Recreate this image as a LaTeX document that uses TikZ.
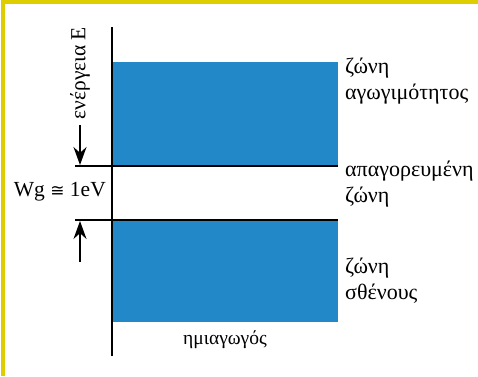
\documentclass[tikz,border=0pt]{standalone}
\usepackage{fontspec}
\setmainfont{Liberation Serif}
\newfontfamily\symfont{DejaVu Sans}
\usetikzlibrary{arrows.meta}
\definecolor{bandblue}{RGB}{34,136,200}
\definecolor{frameyellow}{RGB}{222,206,0}
\begin{document}
\begin{tikzpicture}[x=1pt,y=1pt,
  lbl/.style={font=\fontsize{19.5}{23}\selectfont, inner sep=0pt, align=left},
  rlbl/.style={font=\fontsize{22}{26}\selectfont, inner sep=0pt, align=left, anchor=north west},
  band/.style={fill=bandblue, draw=none},
  level/.style={line width=1.6pt, black},
  arr/.style={line width=1.3pt, -{Stealth[length=18pt,width=13pt]}}]
\useasboundingbox (0,0) rectangle (478,376);
\fill[white] (0,0) rectangle (478,376);
% frame
\draw[frameyellow, line width=4pt] (3,0) -- (3,374) -- (478,374);
% bands
\fill[band] (113,210) rectangle (338,314);
\fill[band] (113,54) rectangle (338,156);
% levels
\coordinate (c1l) at (75,210); \coordinate (c1r) at (338,210);
\coordinate (v1l) at (75,156); \coordinate (v1r) at (338,156);
\draw[level] (c1l) -- (c1r);
\draw[level] (v1l) -- (v1r);
% axis
\coordinate (axt) at (112,349); \coordinate (axb) at (112,20);
\draw[line width=1.8pt] (axt) -- (axb);
% energy label and arrows
\node[lbl, rotate=90, font=\fontsize{21.5}{25}\selectfont] (energy) at (80,303) {ενέργεια E};
\coordinate (a1s) at (80,251); \coordinate (a1e) at (80,211);
\draw[arr] (a1s) -- (a1e);
\coordinate (a2s) at (80,114); \coordinate (a2e) at (80,155);
\draw[arr] (a2s) -- (a2e);
\node[lbl, anchor=east, font=\fontsize{21.5}{25}\selectfont] (wg) at (106,184) {Wg {\symfont\fontsize{17}{20}\selectfont ≅} 1eV};
% band labels
\node[rlbl] (cb) at (345,318) {ζώνη\\αγωγιμότητος};
\node[rlbl] (gap) at (345,215) {απαγορευμένη\\ζώνη};
\node[rlbl] (vb) at (345,118) {ζώνη\\σθένους};
\node[lbl] (semi) at (225,36) {ημιαγωγός};
\end{tikzpicture}
\end{document}
